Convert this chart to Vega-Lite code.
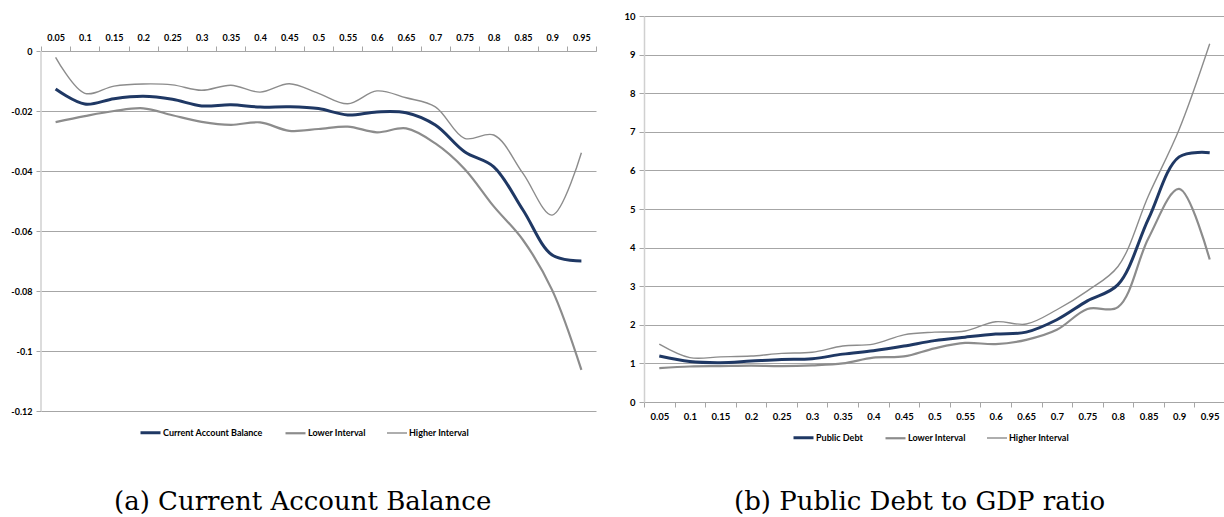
{
  "$schema": "https://vega.github.io/schema/vega-lite/v6.json",
  "padding": {"left": 10, "top": 11, "right": 0, "bottom": 0},
  "background": "white",
  "columns": 2,
  "align": "none",
  "spacing": 26,
  "config": {
    "view": {"stroke": null},
    "font": "Lato",
    "axis": {
      "labelFont": "Lato", "labelFontWeight": "bold", "labelColor": "#000000",
      "gridColor": "#a6a6a6", "gridWidth": 1, "tickColor": "#a6a6a6", "tickSize": 5,
      "labelPadding": 4
    },
    "legend": {
      "labelFont": "Lato", "labelFontWeight": "bold", "labelColor": "#000000",
      "symbolType": "stroke", "symbolSize": 400, "columnPadding": 18, "labelOffset": 1
    }
  },
  "datasets": {
    "cab": [
      {"q": "0.05", "Current Account Balance": -0.0127, "Lower Interval": -0.0237, "Higher Interval": -0.0021},
      {"q": "0.1", "Current Account Balance": -0.0177, "Lower Interval": -0.0217, "Higher Interval": -0.0141},
      {"q": "0.15", "Current Account Balance": -0.0159, "Lower Interval": -0.0200, "Higher Interval": -0.0117},
      {"q": "0.2", "Current Account Balance": -0.0151, "Lower Interval": -0.0191, "Higher Interval": -0.0110},
      {"q": "0.25", "Current Account Balance": -0.0161, "Lower Interval": -0.0214, "Higher Interval": -0.0113},
      {"q": "0.3", "Current Account Balance": -0.0183, "Lower Interval": -0.0236, "Higher Interval": -0.0131},
      {"q": "0.35", "Current Account Balance": -0.0179, "Lower Interval": -0.0246, "Higher Interval": -0.0114},
      {"q": "0.4", "Current Account Balance": -0.0187, "Lower Interval": -0.0238, "Higher Interval": -0.0137},
      {"q": "0.45", "Current Account Balance": -0.0186, "Lower Interval": -0.0266, "Higher Interval": -0.0109},
      {"q": "0.5", "Current Account Balance": -0.0192, "Lower Interval": -0.0260, "Higher Interval": -0.0141},
      {"q": "0.55", "Current Account Balance": -0.0213, "Lower Interval": -0.0252, "Higher Interval": -0.0176},
      {"q": "0.6", "Current Account Balance": -0.0203, "Lower Interval": -0.0271, "Higher Interval": -0.0133},
      {"q": "0.65", "Current Account Balance": -0.0206, "Lower Interval": -0.0258, "Higher Interval": -0.0156},
      {"q": "0.7", "Current Account Balance": -0.0247, "Lower Interval": -0.0308, "Higher Interval": -0.0186},
      {"q": "0.75", "Current Account Balance": -0.0336, "Lower Interval": -0.0393, "Higher Interval": -0.0291},
      {"q": "0.8", "Current Account Balance": -0.0386, "Lower Interval": -0.0518, "Higher Interval": -0.0280},
      {"q": "0.85", "Current Account Balance": -0.0530, "Lower Interval": -0.0630, "Higher Interval": -0.0408},
      {"q": "0.9", "Current Account Balance": -0.0680, "Lower Interval": -0.0797, "Higher Interval": -0.0547},
      {"q": "0.95", "Current Account Balance": -0.0700, "Lower Interval": -0.1063, "Higher Interval": -0.0339}
    ],
    "debt": [
      {"q": "0.05", "Public Debt": 1.19, "Lower Interval": 0.88, "Higher Interval": 1.50},
      {"q": "0.1", "Public Debt": 1.05, "Lower Interval": 0.92, "Higher Interval": 1.15},
      {"q": "0.15", "Public Debt": 1.02, "Lower Interval": 0.93, "Higher Interval": 1.17},
      {"q": "0.2", "Public Debt": 1.06, "Lower Interval": 0.94, "Higher Interval": 1.19},
      {"q": "0.25", "Public Debt": 1.10, "Lower Interval": 0.93, "Higher Interval": 1.26},
      {"q": "0.3", "Public Debt": 1.12, "Lower Interval": 0.95, "Higher Interval": 1.29},
      {"q": "0.35", "Public Debt": 1.24, "Lower Interval": 1.00, "Higher Interval": 1.45},
      {"q": "0.4", "Public Debt": 1.33, "Lower Interval": 1.15, "Higher Interval": 1.50},
      {"q": "0.45", "Public Debt": 1.45, "Lower Interval": 1.18, "Higher Interval": 1.74},
      {"q": "0.5", "Public Debt": 1.59, "Lower Interval": 1.39, "Higher Interval": 1.81},
      {"q": "0.55", "Public Debt": 1.68, "Lower Interval": 1.53, "Higher Interval": 1.84},
      {"q": "0.6", "Public Debt": 1.76, "Lower Interval": 1.50, "Higher Interval": 2.08},
      {"q": "0.65", "Public Debt": 1.81, "Lower Interval": 1.61, "Higher Interval": 2.02},
      {"q": "0.7", "Public Debt": 2.13, "Lower Interval": 1.87, "Higher Interval": 2.39},
      {"q": "0.75", "Public Debt": 2.62, "Lower Interval": 2.41, "Higher Interval": 2.88},
      {"q": "0.8", "Public Debt": 3.04, "Lower Interval": 2.46, "Higher Interval": 3.51},
      {"q": "0.85", "Public Debt": 4.75, "Lower Interval": 4.25, "Higher Interval": 5.35},
      {"q": "0.9", "Public Debt": 6.35, "Lower Interval": 5.52, "Higher Interval": 7.06},
      {"q": "0.95", "Public Debt": 6.46, "Lower Interval": 3.69, "Higher Interval": 9.28}
    ]
  },
  "concat": [
    {
      "width": 555,
      "height": 395,
      "title": {"text": "(a) Current Account Balance", "orient": "bottom", "anchor": "start", "frame": "group", "dx": 73, "offset": 50, "font": "DejaVu Serif", "fontSize": 26, "fontWeight": "normal", "color": "#000000"},
      "layer": [
        {
          "data": {"name": "cab"},
          "transform": [{"fold": ["Current Account Balance", "Lower Interval", "Higher Interval"], "as": ["series", "value"]}],
          "mark": {"type": "line", "interpolate": "catmull-rom"},
          "encoding": {
            "x": {
              "field": "q", "type": "ordinal", "bandPosition": 0.5,
              "scale": {"type": "band", "domain": ["0.05","0.1","0.15","0.2","0.25","0.3","0.35","0.4","0.45","0.5","0.55","0.6","0.65","0.7","0.75","0.8","0.85","0.9","0.95"], "paddingInner": 0, "paddingOuter": 0},
              "axis": {"orient": "top", "title": null, "offset": -35, "bandPosition": 0.5, "labelAngle": 0, "labelFontSize": 9, "tickBand": "extent", "grid": false, "domainColor": "#a6a6a6", "domainWidth": 1}
            },
            "y": {
              "field": "value", "type": "quantitative",
              "scale": {"domain": [-0.12, 0.0116667], "nice": false, "zero": false},
              "axis": {"title": null, "values": [0, -0.02, -0.04, -0.06, -0.08, -0.1, -0.12], "labelExpr": "'' + datum.value", "labelFontSize": 9, "grid": true, "domain": false}
            },
            "color": {
              "field": "series", "type": "nominal",
              "scale": {"domain": ["Current Account Balance", "Lower Interval", "Higher Interval"], "range": ["#1f3864", "#8c8c8c", "#8c8c8c"]},
              "legend": {"orient": "none", "legendX": 98, "legendY": 405, "direction": "horizontal", "title": null, "labelFontSize": 9}
            },
            "strokeWidth": {
              "field": "series", "type": "nominal",
              "scale": {"domain": ["Current Account Balance", "Lower Interval", "Higher Interval"], "range": [3, 1.4, 1.4]},
              "legend": {"orient": "none", "legendX": 98, "legendY": 405, "direction": "horizontal", "title": null, "labelFontSize": 9}
            }
          }
        },
        {
          "data": {"values": [{}]},
          "mark": {"type": "rule", "color": "#d0d0d0", "strokeWidth": 1.5},
          "encoding": {
            "x": {"datum": "0.05", "type": "ordinal", "bandPosition": 0},
            "y": {"datum": 0, "type": "quantitative"},
            "y2": {"datum": -0.12}
          }
        }
      ]
    },
    {
      "width": 581,
      "height": 386,
      "data": {"name": "debt"},
      "transform": [{"fold": ["Public Debt", "Lower Interval", "Higher Interval"], "as": ["series", "value"]}],
      "title": {"text": "(b) Public Debt to GDP ratio", "orient": "bottom", "anchor": "start", "frame": "group", "dx": 90, "offset": 45, "font": "DejaVu Serif", "fontSize": 26, "fontWeight": "normal", "color": "#000000"},
      "mark": {"type": "line", "interpolate": "catmull-rom"},
      "encoding": {
        "x": {
          "field": "q", "type": "ordinal", "bandPosition": 0.5,
          "scale": {"type": "band", "domain": ["0.05","0.1","0.15","0.2","0.25","0.3","0.35","0.4","0.45","0.5","0.55","0.6","0.65","0.7","0.75","0.8","0.85","0.9","0.95"], "paddingInner": 0, "paddingOuter": 0},
          "axis": {"orient": "bottom", "title": null, "labelAngle": 0, "labelFontSize": 9.5, "tickBand": "extent", "grid": false, "domainColor": "#a6a6a6", "domainWidth": 1}
        },
        "y": {
          "field": "value", "type": "quantitative",
          "scale": {"domain": [0, 10], "nice": false, "zero": false},
          "axis": {"title": null, "values": [0,1,2,3,4,5,6,7,8,9,10], "labelFontSize": 9.5, "grid": true, "domainColor": "#d0d0d0", "domainWidth": 1.5}
        },
        "color": {
          "field": "series", "type": "nominal",
          "scale": {"domain": ["Public Debt", "Lower Interval", "Higher Interval"], "range": ["#1f3864", "#8c8c8c", "#8c8c8c"]},
          "legend": {"orient": "none", "legendX": 148, "legendY": 410, "direction": "horizontal", "title": null, "labelFontSize": 9}
        },
        "strokeWidth": {
          "field": "series", "type": "nominal",
          "scale": {"domain": ["Public Debt", "Lower Interval", "Higher Interval"], "range": [3, 1.4, 1.4]},
          "legend": {"orient": "none", "legendX": 148, "legendY": 410, "direction": "horizontal", "title": null, "labelFontSize": 9}
        }
      }
    }
  ],
  "resolve": {
    "scale": {"color": "independent", "strokeWidth": "independent", "x": "independent", "y": "independent"},
    "legend": {"color": "independent", "strokeWidth": "independent"}
  }
}
